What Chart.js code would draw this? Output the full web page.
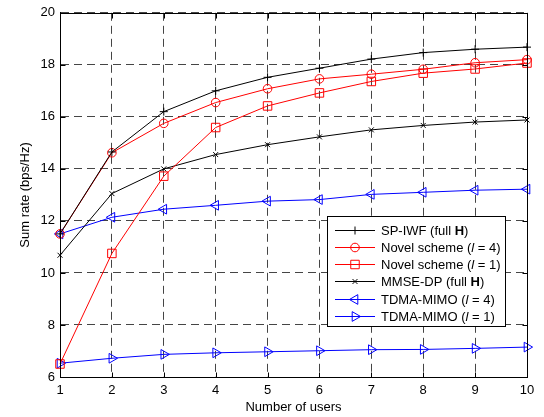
<!DOCTYPE html>
<html><head><meta charset="utf-8">
<script src="https://cdn.jsdelivr.net/npm/chart.js@4/dist/chart.umd.min.js"></script>
<style>html,body{margin:0;padding:0;background:#fff;} canvas{display:block;}</style>
</head><body>
<canvas id="c" width="544" height="417"></canvas>
<script>
// ---- data ----
const users   = [1, 2, 3, 4, 5, 6, 7, 8, 9, 10];
const spIwf   = [11.5, 14.65, 16.2, 17.0, 17.52, 17.87, 18.22, 18.47, 18.6, 18.68];
const novelL4 = [11.5, 14.62, 15.75, 16.55, 17.08, 17.46, 17.64, 17.83, 18.08, 18.2];
const novelL1 = [6.5, 10.75, 13.72, 15.59, 16.42, 16.92, 17.36, 17.68, 17.84, 18.07];
const mmseDp  = [10.68, 13.05, 14.0, 14.55, 14.93, 15.23, 15.5, 15.67, 15.8, 15.88];
const tdmaL4  = [11.5, 12.14, 12.45, 12.6, 12.76, 12.82, 13.02, 13.1, 13.18, 13.22];
const tdmaL1  = [6.53, 6.72, 6.87, 6.93, 6.97, 7.01, 7.05, 7.06, 7.1, 7.15];
const yTickValues = [6, 8, 10, 12, 14, 16, 18, 20];
const xTitle = 'Number of users';
const yTitle = 'Sum rate (bps/Hz)';
const legendLabels = [
  [['SP-IWF (full ', ''], ['H', 'bold'], [')', '']],
  [['Novel scheme (', ''], ['l', 'italic'], [' = 4)', '']],
  [['Novel scheme (', ''], ['l', 'italic'], [' = 1)', '']],
  [['MMSE-DP (full ', ''], ['H', 'bold'], [')', '']],
  [['TDMA-MIMO (', ''], ['l', 'italic'], [' = 4)', '']],
  [['TDMA-MIMO (', ''], ['l', 'italic'], [' = 1)', '']]
];

const FONT = "'Liberation Sans', Arial, Helvetica, sans-serif";
const seriesValues = [spIwf, novelL4, novelL1, mmseDp, tdmaL4, tdmaL1];
const styles = [
  {color: '#000000', point: 'cross',    radius: 4,   rot: 0},
  {color: '#ff0000', point: 'circle',   radius: 4.3, rot: 0},
  {color: '#ff0000', point: 'rect',     radius: 6,   rot: 0},
  {color: '#000000', point: 'crossRot', radius: 3.5, rot: 0},
  {color: '#0000ff', point: 'triangle', radius: 5.6, rot: -90},
  {color: '#0000ff', point: 'triangle', radius: 5.6, rot: 90}
];

const datasets = seriesValues.map((vals, i) => ({
  label: legendLabels[i].map(s => s[0]).join(''),
  data: users.map((u, k) => ({x: u, y: vals[k]})),
  borderColor: styles[i].color,
  backgroundColor: 'transparent',
  borderWidth: 1,
  pointStyle: styles[i].point,
  pointRadius: styles[i].radius,
  pointRotation: styles[i].rot,
  pointBorderColor: styles[i].color,
  pointBackgroundColor: 'rgba(0,0,0,0)',
  pointBorderWidth: 1,
  tension: 0,
  fill: false,
  clip: false
}));

function drawMarker(ctx, style, x, y) {
  const r = style.radius;
  ctx.beginPath();
  if (style.point === 'circle') {
    ctx.arc(x, y, r, 0, Math.PI * 2);
  } else if (style.point === 'rect') {
    const s = Math.SQRT1_2 * r;
    ctx.rect(x - s, y - s, 2 * s, 2 * s);
  } else if (style.point === 'cross') {
    ctx.moveTo(x - r, y); ctx.lineTo(x + r, y);
    ctx.moveTo(x, y - r); ctx.lineTo(x, y + r);
  } else if (style.point === 'crossRot') {
    const d = r * Math.SQRT1_2;
    ctx.moveTo(x - d, y - d); ctx.lineTo(x + d, y + d);
    ctx.moveTo(x + d, y - d); ctx.lineTo(x - d, y + d);
  } else if (style.point === 'triangle') {
    let rad = style.rot * Math.PI / 180;
    ctx.moveTo(x + Math.sin(rad) * r, y - Math.cos(rad) * r);
    rad += 2 * Math.PI / 3;
    ctx.lineTo(x + Math.sin(rad) * r, y - Math.cos(rad) * r);
    rad += 2 * Math.PI / 3;
    ctx.lineTo(x + Math.sin(rad) * r, y - Math.cos(rad) * r);
    ctx.closePath();
  }
  ctx.stroke();
}

const framePlugin = {
  id: 'frame',
  afterDatasetsDraw(chart) {
    const {ctx, chartArea: a, scales} = chart;
    ctx.save();
    ctx.strokeStyle = '#000';
    ctx.lineWidth = 1;
    ctx.setLineDash([]);
    const L = Math.round(a.left) + 0.5, R = Math.round(a.right) + 0.5;
    const T = Math.round(a.top) + 0.5, B = Math.round(a.bottom) + 0.5;
    ctx.beginPath();
    ctx.rect(L, T, R - L, B - T);
    const tl = 5;
    scales.x.ticks.forEach(t => {
      const px = Math.round(scales.x.getPixelForValue(t.value)) + 0.5;
      ctx.moveTo(px, B); ctx.lineTo(px, B - tl);
      ctx.moveTo(px, T); ctx.lineTo(px, T + tl);
    });
    scales.y.ticks.forEach(t => {
      const py = Math.round(scales.y.getPixelForValue(t.value)) + 0.5;
      ctx.moveTo(L, py); ctx.lineTo(L + tl, py);
      ctx.moveTo(R, py); ctx.lineTo(R - tl, py);
    });
    ctx.stroke();
    ctx.restore();
  },
  afterDraw(chart) {
    const {ctx, chartArea: a} = chart;
    ctx.save();
    const bx = Math.round(a.right) - 199.5, by = Math.round(a.top) + 203.5;
    const bw = 178, bh = 110;
    ctx.fillStyle = '#fff';
    ctx.fillRect(bx, by, bw, bh);
    ctx.strokeStyle = '#000';
    ctx.lineWidth = 1;
    ctx.setLineDash([]);
    ctx.strokeRect(bx, by, bw, bh);
    const rowH = 17.3;
    legendLabels.forEach((segs, i) => {
      const cy = Math.round(by + 13 + i * rowH) + 0.5;
      const st = styles[i];
      ctx.strokeStyle = st.color;
      ctx.lineWidth = 1;
      ctx.beginPath();
      ctx.moveTo(bx + 7.5, cy); ctx.lineTo(bx + 47.5, cy);
      ctx.stroke();
      drawMarker(ctx, st, bx + 27.5, cy);
      let tx = bx + 53.5;
      ctx.fillStyle = '#000';
      ctx.textBaseline = 'middle';
      ctx.textAlign = 'left';
      segs.forEach(([txt, w]) => {
        ctx.font = (w === 'bold' ? 'bold ' : w === 'italic' ? 'italic ' : '') + '13px ' + FONT;
        ctx.fillText(txt, tx, cy + 1);
        tx += ctx.measureText(txt).width;
      });
    });
    ctx.restore();
  }
};

new Chart(document.getElementById('c'), {
  type: 'line',
  data: {datasets},
  options: {
    responsive: false,
    animation: false,
    events: [],
    layout: {padding: {left: 0, right: 17, top: 12, bottom: 0}},
    plugins: {legend: {display: false}, tooltip: {enabled: false}},
    scales: {
      x: {
        type: 'linear', min: 1, max: 10,
        afterFit(s) { s.height = 40; },
        ticks: {stepSize: 1, padding: 6, color: '#000', font: {family: FONT, size: 13},
                callback: v => String(v)},
        grid: {color: '#454545', lineWidth: 1, drawTicks: false},
        border: {display: true, color: '#000', width: 1, dash: [8, 5]},
        title: {display: true, text: xTitle, color: '#000', font: {family: FONT, size: 13},
                padding: {top: 0, bottom: 2}}
      },
      y: {
        type: 'linear', min: 6, max: 20,
        afterFit(s) { s.width = 60; },
        afterBuildTicks(s) { s.ticks = yTickValues.map(v => ({value: v})); },
        ticks: {padding: 5, color: '#000', font: {family: FONT, size: 13}},
        grid: {color: '#454545', lineWidth: 1, drawTicks: false},
        border: {display: true, color: '#000', width: 1, dash: [8, 5]},
        title: {display: true, text: yTitle, color: '#000', font: {family: FONT, size: 13},
                padding: {top: 18, bottom: 0}}
      }
    }
  },
  plugins: [framePlugin]
});
</script>
</body></html>
